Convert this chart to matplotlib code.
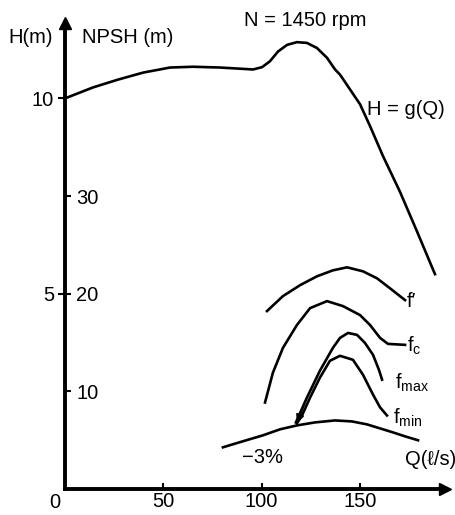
import matplotlib.pyplot as plt

plt.rcParams['font.family'] = ['Liberation Sans', 'DejaVu Sans']
plt.rcParams['font.size'] = 14.5
plt.rcParams['mathtext.default'] = 'regular'

# head curve H = g(Q), Q in l/s, H in m
q_h = [0, 14.2, 26.9, 39.7, 53.4, 65.1, 78.8, 89.0, 95.6, 100.2, 104.2, 108.3, 112.9,
       117.9, 123.0, 128.1, 133.2, 137.3, 139.8, 144.9, 150.0, 155.1, 161.7, 170.3, 179.0, 188.1]
h = [10.0, 10.28, 10.48, 10.66, 10.79, 10.81, 10.79, 10.76, 10.74, 10.80, 10.95, 11.20, 11.37,
     11.44, 11.42, 11.29, 11.04, 10.74, 10.61, 10.23, 9.85, 9.29, 8.52, 7.61, 6.59, 5.50]

# NPSH curves (m)
q_fp = [102.7, 110.8, 119.5, 128.1, 136.2, 143.4, 151.5, 158.6, 165.2, 172.9]
npsh_fp = [18.22, 19.75, 20.87, 21.78, 22.39, 22.70, 22.29, 21.58, 20.56, 19.34]

q_fc = [101.7, 105.7, 110.8, 117.9, 124.6, 133.2, 141.3, 150.0, 155.1, 160.2, 164.2, 172.9]
npsh_fc = [8.86, 11.91, 14.45, 16.79, 18.52, 19.24, 18.73, 17.81, 16.79, 15.47, 14.86, 14.76]

q_fmax = [117.4, 123.0, 129.6, 136.2, 139.8, 143.9, 148.5, 152.5, 156.6, 159.6, 161.2]
npsh_fmax = [6.82, 9.36, 12.11, 14.45, 15.47, 15.98, 15.78, 14.96, 13.74, 12.21, 11.20]

q_fmin = [117.9, 120.5, 124.6, 129.6, 134.7, 139.8, 146.4, 151.5, 156.6, 160.2, 163.7]
npsh_fmin = [6.72, 7.53, 9.36, 11.40, 13.13, 13.64, 13.23, 11.70, 9.67, 8.35, 7.53]

q_3 = [80.3, 90.5, 100.7, 109.3, 117.9, 127.1, 137.3, 145.9, 153.5, 160.1, 166.7, 172.9, 179.5]
npsh_3 = [4.27, 4.89, 5.50, 6.11, 6.51, 6.82, 7.02, 6.92, 6.62, 6.21, 5.80, 5.39, 4.99]

h_ticks = [5, 10]
npsh_ticks = [10, 20, 30]
q_ticks = [50, 100, 150]

fig = plt.figure(figsize=(4.56, 5.15), dpi=100)
ax = fig.add_axes([65 / 456, 26 / 515, 380 / 456, 466 / 515])
ax.set_xlim(0, 193.2)
ax.set_ylim(0, 11.93)

for s in ['top', 'right']:
    ax.spines[s].set_visible(False)
ax.spines['left'].set_linewidth(2.8)
ax.spines['bottom'].set_linewidth(2.8)
ax.plot(0, 1, '^k', ms=8, transform=ax.get_xaxis_transform(), clip_on=False)
ax.plot(1, 0, '>k', ms=8, transform=ax.get_yaxis_transform(), clip_on=False)

ax.set_xticks(q_ticks)
ax.tick_params(axis='x', direction='in', length=4, width=1.5, pad=2)
ax.set_yticks(h_ticks)
ax.tick_params(axis='y', direction='out', length=5, width=1.5, pad=3)

ax2 = ax.twinx()
ax2.set_ylim(0, 4 * 11.93)
for s in ax2.spines.values():
    s.set_visible(False)
ax2.spines['right'].set_position(('axes', 0))
ax2.set_yticks(npsh_ticks)
ax2.tick_params(axis='y', direction='out', length=4, width=1.5, pad=4)

lw = 1.9
ax.plot(q_h, h, color='black', lw=lw, clip_on=False, solid_joinstyle='round')
for q, n in [(q_fp, npsh_fp), (q_fc, npsh_fc), (q_fmax, npsh_fmax),
             (q_fmin, npsh_fmin), (q_3, npsh_3)]:
    ax2.plot(q, n, color='black', lw=lw, clip_on=False, solid_joinstyle='round')
ax2.annotate('', xy=(q_fmax[0], npsh_3[4]), xytext=(q_fmax[1], npsh_fmax[1]),
             arrowprops=dict(arrowstyle='-|>', color='black', lw=1.2, mutation_scale=12))

ax.text(-29, 11.55, 'H(m)', ha='left', va='center')
ax.text(8.6, 11.55, 'NPSH (m)', ha='left', va='center')
ax.text(122, 12.0, 'N = 1450 rpm', ha='center', va='center')
ax.text(153.5, 9.72, 'H = g(Q)', ha='left', va='center')
ax.text(173.9, 4.81, 'f′', ha='left', va='center')
ax.text(173.9, 3.66, 'f$_c$', ha='left', va='center')
ax.text(167.8, 2.72, 'f$_{max}$', ha='left', va='center')
ax.text(166.7, 1.83, 'f$_{min}$', ha='left', va='center')
ax.text(90, 0.81, '−3%', ha='left', va='center')
ax.text(198.8, 0.76, 'Q(ℓ/s)', ha='right', va='center')
ax.text(-5, -0.1, '0', ha='center', va='top')

fig.savefig('out.png', dpi=100)
